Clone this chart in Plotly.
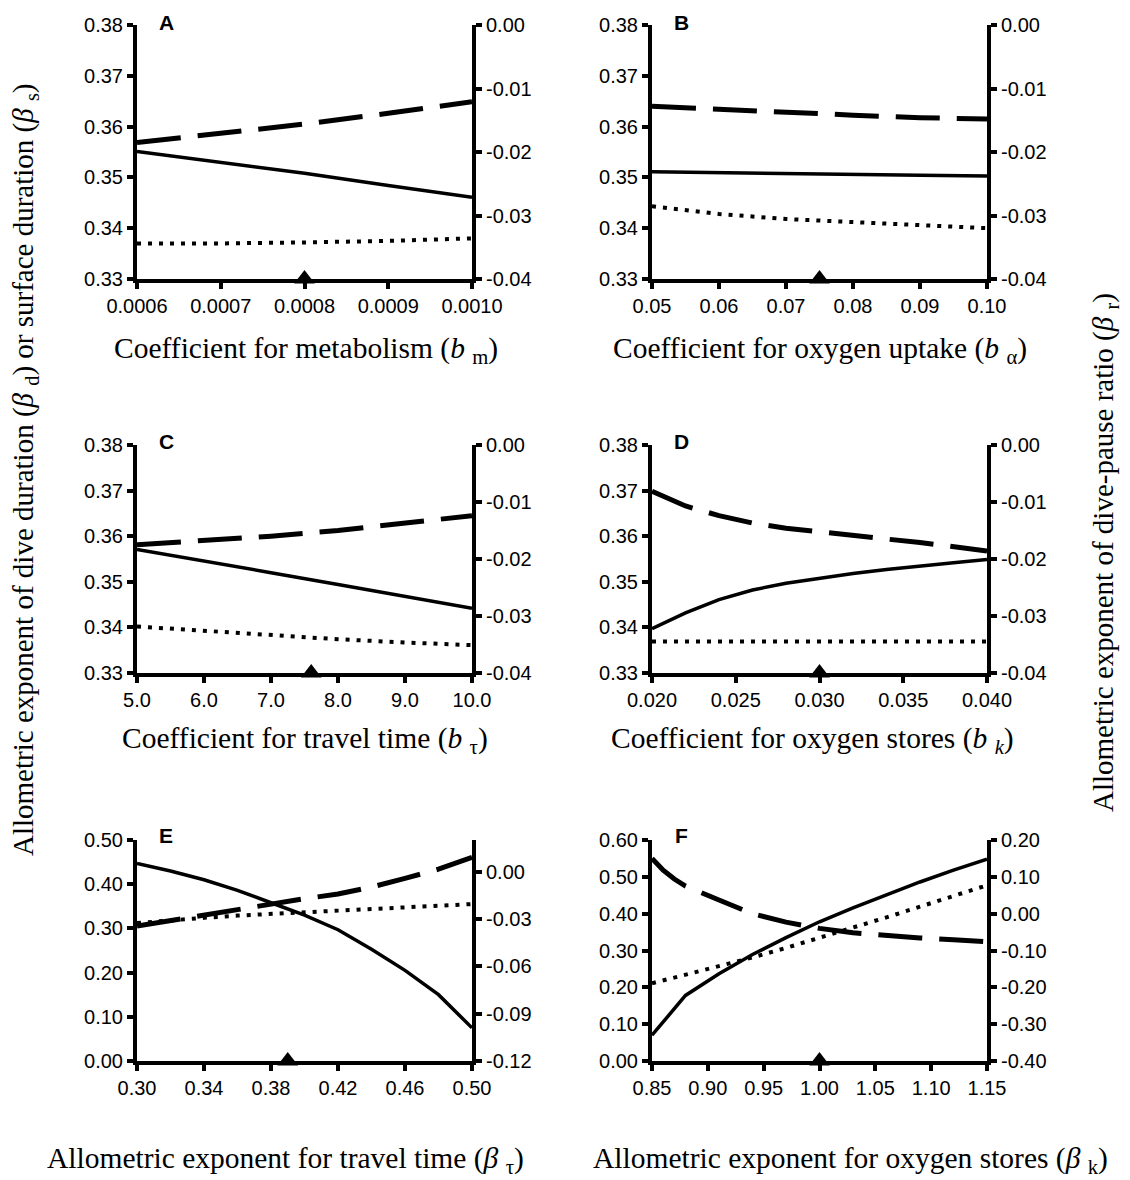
import plotly.graph_objects as go

W, H = 1130, 1180
PAGE_MARGIN = 8  # default body margin of the html page

# ---------------- data ----------------
# Panel A: coefficient for metabolism
a_x = [0.0006, 0.0007, 0.0008, 0.0009, 0.0010]
a_dive = [0.3551, 0.3530, 0.3508, 0.3484, 0.3461]
a_surf = [0.3370, 0.3370, 0.3372, 0.3375, 0.3380]
a_ratio = [-0.0185, -0.0171, -0.0156, -0.0139, -0.0121]

# Panel B: coefficient for oxygen uptake
b_x = [0.05, 0.06, 0.07, 0.08, 0.09, 0.10]
b_dive = [0.3511, 0.3509, 0.3507, 0.3505, 0.3504, 0.3503]
b_surf = [0.3443, 0.3428, 0.3418, 0.3412, 0.3407, 0.3400]
b_ratio = [-0.0128, -0.0133, -0.0138, -0.0142, -0.0146, -0.0148]

# Panel C: coefficient for travel time
c_x = [5.0, 6.0, 7.0, 8.0, 9.0, 10.0]
c_dive = [0.3571, 0.3546, 0.3520, 0.3494, 0.3468, 0.3442]
c_surf = [0.3402, 0.3392, 0.3382, 0.3374, 0.3367, 0.3361]
c_ratio = [-0.0175, -0.0168, -0.0160, -0.0150, -0.0138, -0.0124]

# Panel D: coefficient for oxygen stores
d_x = [0.020, 0.022, 0.024, 0.026, 0.028, 0.030, 0.032, 0.034, 0.036, 0.038, 0.040]
d_dive = [0.3397, 0.3432, 0.3461, 0.3482, 0.3497, 0.3508, 0.3518, 0.3527, 0.3535, 0.3542, 0.3549]
d_surf = [0.3369, 0.3369, 0.3369, 0.3369, 0.3369, 0.3369, 0.3369, 0.3369, 0.3369, 0.3369, 0.3369]
d_ratio = [-0.0081, -0.0107, -0.0124, -0.0137, -0.0146, -0.0153, -0.0159, -0.0165, -0.0171, -0.0178, -0.0186]

# Panel E: allometric exponent for travel time
e_x = [0.30, 0.32, 0.34, 0.36, 0.38, 0.40, 0.42, 0.44, 0.46, 0.48, 0.50]
e_dive = [0.447, 0.430, 0.410, 0.386, 0.358, 0.330, 0.297, 0.253, 0.205, 0.150, 0.075]
e_surf = [0.312, 0.319, 0.324, 0.329, 0.333, 0.337, 0.341, 0.345, 0.349, 0.352, 0.355]
e_ratio = [-0.0345, -0.0310, -0.0275, -0.0238, -0.0201, -0.0172, -0.0142, -0.0098, -0.0043, 0.0015, 0.0090]

# Panel F: allometric exponent for oxygen stores
f_x = [0.85, 0.88, 0.91, 0.94, 0.97, 1.00, 1.03, 1.06, 1.09, 1.12, 1.15]
f_dive = [0.070, 0.178, 0.237, 0.289, 0.335, 0.378, 0.416, 0.452, 0.486, 0.518, 0.548]
f_surf = [0.211, 0.234, 0.257, 0.281, 0.307, 0.334, 0.362, 0.390, 0.419, 0.448, 0.477]
f_ratio_x = [0.85, 0.86, 0.87, 0.88, 0.91, 0.94, 0.97, 1.00, 1.03, 1.06, 1.09, 1.12, 1.15]
f_ratio = [0.150, 0.118, 0.094, 0.075, 0.037, 0.000, -0.023, -0.040, -0.052, -0.060, -0.066, -0.071, -0.076]

# Reference (default) parameter values marked by triangles
tri_x = [0.0008, 0.075, 7.6, 0.030, 0.39, 1.00]

panel_letters = ["A", "B", "C", "D", "E", "F"]
x_titles = [
    "Coefficient for metabolism (<i>b</i> <sub>m</sub>)",
    "Coefficient for oxygen uptake (<i>b</i> <sub>α</sub>)",
    "Coefficient for travel time (<i>b</i> <sub>τ</sub>)",
    "Coefficient for oxygen stores (<i>b</i> <sub><i>k</i></sub>)",
    "Allometric exponent for travel time (<i>β</i> <sub>τ</sub>)",
    "Allometric exponent for oxygen stores (<i>β</i> <sub>k</sub>)",
]
left_title = "Allometric exponent of dive duration (<i>β</i> <sub>d</sub>) or surface duration (<i>β</i> <sub>s</sub>)"
right_title = "Allometric exponent of dive-pause ratio (<i>β</i> <sub>r</sub>)"

x_ranges = [[0.0006, 0.0010], [0.05, 0.10], [5.0, 10.0], [0.020, 0.040], [0.30, 0.50], [0.85, 1.15]]
x_ticks = [
    [0.0006, 0.0007, 0.0008, 0.0009, 0.0010],
    [0.05, 0.06, 0.07, 0.08, 0.09, 0.10],
    [5.0, 6.0, 7.0, 8.0, 9.0, 10.0],
    [0.020, 0.025, 0.030, 0.035, 0.040],
    [0.30, 0.34, 0.38, 0.42, 0.46, 0.50],
    [0.85, 0.90, 0.95, 1.00, 1.05, 1.10, 1.15],
]
x_decimals = [4, 2, 1, 3, 2, 2]

yl_ranges = [[0.33, 0.38]] * 4 + [[0.0, 0.5], [0.0, 0.6]]
yl_ticks = [[0.33, 0.34, 0.35, 0.36, 0.37, 0.38]] * 4 + [
    [0.0, 0.1, 0.2, 0.3, 0.4, 0.5],
    [0.0, 0.1, 0.2, 0.3, 0.4, 0.5, 0.6],
]
yr_ranges = [[-0.04, 0.0]] * 4 + [[-0.12, 0.02], [-0.40, 0.20]]
yr_ticks = [[-0.04, -0.03, -0.02, -0.01, 0.0]] * 4 + [
    [-0.12, -0.09, -0.06, -0.03, 0.0],
    [-0.4, -0.3, -0.2, -0.1, 0.0, 0.1, 0.2],
]

panels = [
    (a_x, a_dive, a_surf, a_x, a_ratio),
    (b_x, b_dive, b_surf, b_x, b_ratio),
    (c_x, c_dive, c_surf, c_x, c_ratio),
    (d_x, d_dive, d_surf, d_x, d_ratio),
    (e_x, e_dive, e_surf, e_x, e_ratio),
    (f_x, f_dive, f_surf, f_ratio_x, f_ratio),
]

# ---------------- layout geometry (page pixels) ----------------
col_px = [(137, 472), (652, 987)]
row_px = [(25, 279), (445, 673), (840, 1061)]
title_y_px = [350, 740, 1160]
title_x_px = [306, 820, 305, 812, 285, 850]
letter_y_px = [22, 441, 835]


def px2x(p):
    return (p - PAGE_MARGIN) / W


def px2y(p):
    return 1 - (p - PAGE_MARGIN) / H


def fmt(vals, d):
    return [f"{v:.{d}f}" for v in vals]


TICK_FONT = dict(family="Arial, Liberation Sans, sans-serif", size=20, color="black")
SERIF = "Times New Roman, Liberation Serif, serif"
AX = dict(showline=True, linecolor="black", linewidth=4, ticks="outside", ticklen=6,
          tickwidth=4, tickcolor="black", showgrid=False, zeroline=False,
          tickfont=TICK_FONT, fixedrange=True, automargin=False)

fig = go.Figure()
layout = dict(width=W, height=H, margin=dict(l=0, r=0, t=0, b=0, autoexpand=False),
              paper_bgcolor="white", plot_bgcolor="white", showlegend=False)
annotations = []

for i in range(6):
    r, c = divmod(i, 2)
    n = i + 1
    xs = "" if n == 1 else str(n)
    xd = [px2x(col_px[c][0]), px2x(col_px[c][1])]
    yd = [px2y(row_px[r][1]), px2y(row_px[r][0])]
    layout["xaxis" + xs] = dict(AX, domain=xd, range=x_ranges[i], tickvals=x_ticks[i],
                                ticktext=fmt(x_ticks[i], x_decimals[i]), anchor="y" + xs)
    layout["yaxis" + xs] = dict(AX, domain=yd, range=yl_ranges[i], tickvals=yl_ticks[i],
                                ticktext=fmt(yl_ticks[i], 2), anchor="x" + xs, side="left")
    rn = str(n + 6)
    layout["yaxis" + rn] = dict(AX, domain=yd, range=yr_ranges[i], tickvals=yr_ticks[i],
                                ticktext=fmt(yr_ticks[i], 2), anchor="x" + xs, side="right",
                                overlaying="y" + xs)

    x, dive, surf, rx, ratio = panels[i]
    fig.add_trace(go.Scatter(x=x, y=dive, mode="lines", xaxis="x" + xs, yaxis="y" + xs,
                             line=dict(color="black", width=3.5)))
    fig.add_trace(go.Scatter(x=x, y=surf, mode="lines", xaxis="x" + xs, yaxis="y" + xs,
                             line=dict(color="black", width=4, dash="4px,7px")))
    fig.add_trace(go.Scatter(x=rx, y=ratio, mode="lines", xaxis="x" + xs, yaxis="y" + rn,
                             line=dict(color="black", width=5, dash="44px,17px")))
    fig.add_trace(go.Scatter(x=[tri_x[i]], y=[yl_ranges[i][0]], mode="markers",
                             xaxis="x" + xs, yaxis="y" + xs, cliponaxis=False,
                             marker=dict(symbol="triangle-up", size=18, color="black")))

    annotations.append(dict(text="<b>" + panel_letters[i] + "</b>", x=px2x(col_px[c][0] + 29),
                            y=px2y(letter_y_px[r]), xref="paper", yref="paper", showarrow=False,
                            xanchor="center", yanchor="middle",
                            font=dict(family="Arial, Liberation Sans, sans-serif", size=21, color="black")))
    annotations.append(dict(text=x_titles[i], x=px2x(title_x_px[i]),
                            y=px2y(title_y_px[r]), xref="paper", yref="paper", showarrow=False,
                            xanchor="center", yanchor="middle",
                            font=dict(family=SERIF, size=29.5, color="black")))

annotations.append(dict(text=left_title, x=px2x(25), y=px2y(470), xref="paper", yref="paper",
                        showarrow=False, textangle=-90, xanchor="center", yanchor="middle",
                        font=dict(family=SERIF, size=29, color="black")))
annotations.append(dict(text=right_title, x=px2x(1105), y=px2y(553), xref="paper", yref="paper",
                        showarrow=False, textangle=-90, xanchor="center", yanchor="middle",
                        font=dict(family=SERIF, size=29, color="black")))
layout["annotations"] = annotations
fig.update_layout(**layout)

fig.write_html("out.html")
